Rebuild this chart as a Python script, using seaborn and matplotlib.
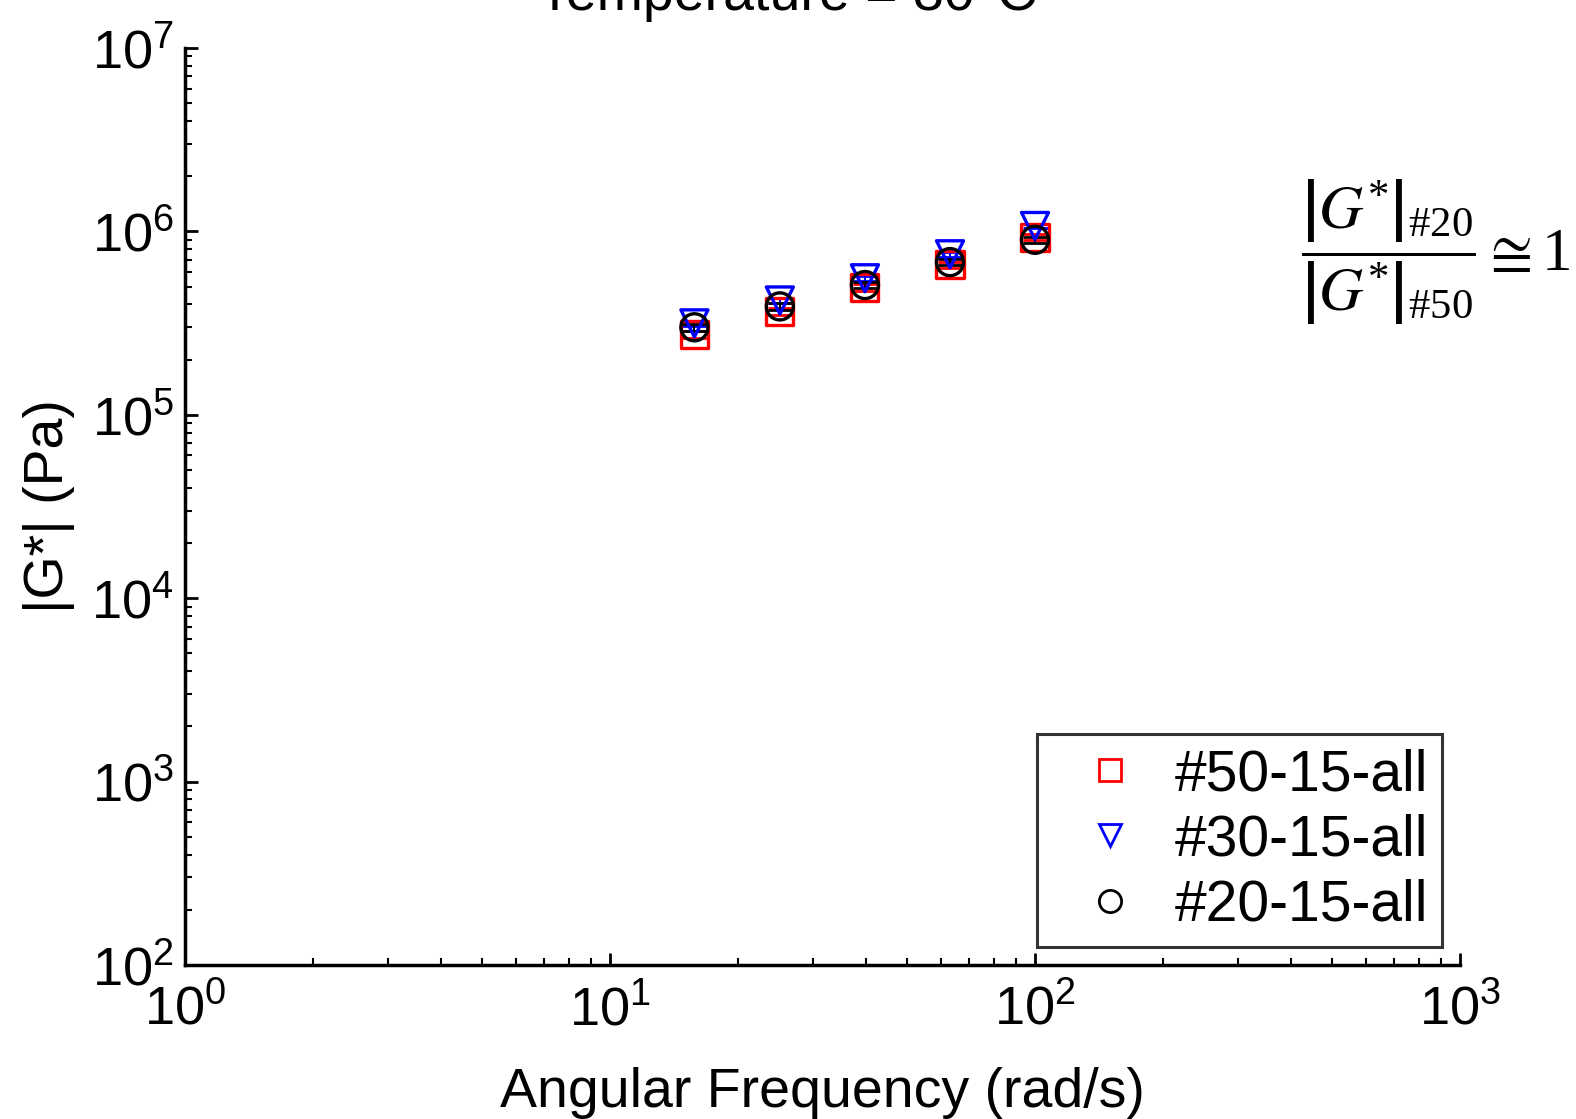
import numpy as np
import pandas as pd
import matplotlib
matplotlib.use("Agg")
import matplotlib.pyplot as plt
import seaborn as sns
from matplotlib.ticker import LogLocator, LogFormatterSciNotation, NullFormatter

# ---- data ----
freq = [15.8, 25.1, 39.8, 63.1, 100.0]
g50 = [2.75e5, 3.65e5, 4.95e5, 6.6e5, 9.3e5]
g30 = [3.15e5, 4.2e5, 5.55e5, 7.5e5, 1.07e6]
g20 = [3.0e5, 3.9e5, 5.1e5, 6.8e5, 9.0e5]
err50 = [1.2e4, 1.5e4, 2.0e4, 2.5e4, 3.5e4]
err30 = [1.0e4, 1.4e4, 1.8e4, 2.5e4, 3.0e4]
err20 = [1.2e4, 1.5e4, 2.0e4, 2.5e4, 3.5e4]
labels = ["#50-15-all", "#30-15-all", "#20-15-all"]
colors = ["red", "blue", "black"]
markers = ["s", "v", "o"]
title = "Temperature = 30°C"
xlabel = "Angular Frequency (rad/s)"
ylabel = "|G*| (Pa)"

df = pd.DataFrame({
    "freq": freq * 3,
    "G": g50 + g30 + g20,
    "sample": [labels[0]] * 5 + [labels[1]] * 5 + [labels[2]] * 5,
})

sns.set_style("ticks")
plt.rcParams["font.family"] = ["Liberation Sans", "DejaVu Sans"]
plt.rcParams["mathtext.fontset"] = "custom"
plt.rcParams["mathtext.rm"] = "Liberation Sans"
plt.rcParams["mathtext.it"] = "Liberation Sans:italic"
plt.rcParams["mathtext.default"] = "regular"
plt.rcParams["text.color"] = "black"
plt.rcParams["axes.labelcolor"] = "black"
plt.rcParams["xtick.color"] = "black"
plt.rcParams["ytick.color"] = "black"

fig = plt.figure(figsize=(15.76, 11.19), dpi=100)
ax = fig.add_axes([185 / 1576, 1 - 965 / 1119, (1460 - 185) / 1576, (965 - 48) / 1119])

for y, e, c in zip([g50, g30, g20], [err50, err30, err20], colors):
    ax.errorbar(freq, y, yerr=e, fmt="none", ecolor=c, elinewidth=1.5,
                capsize=9, capthick=2, zorder=2)

sns.scatterplot(data=df, x="freq", y="G", hue="sample", style="sample",
                hue_order=labels, style_order=labels,
                palette=dict(zip(labels, colors)),
                markers=dict(zip(labels, markers)),
                s=380, linewidth=2.4, ax=ax, zorder=3, legend=False)
# make markers hollow
for coll in ax.collections:
    if hasattr(coll, "get_offsets") and len(coll.get_offsets()) == 15:
        fc = coll.get_facecolors()
        coll.set_edgecolors(fc)
        coll.set_facecolors("none")

ax.set_xscale("log")
ax.set_yscale("log")
ax.set_xlim(1, 1000)
ax.set_ylim(1e2, 1e7)

ax.xaxis.set_major_locator(LogLocator(base=10, numticks=10))
ax.yaxis.set_major_locator(LogLocator(base=10, numticks=10))
ax.xaxis.set_minor_locator(LogLocator(base=10, subs=np.arange(2, 10), numticks=20))
ax.yaxis.set_minor_locator(LogLocator(base=10, subs=np.arange(2, 10), numticks=20))
ax.xaxis.set_major_formatter(LogFormatterSciNotation())
ax.yaxis.set_major_formatter(LogFormatterSciNotation())
ax.xaxis.set_minor_formatter(NullFormatter())
ax.yaxis.set_minor_formatter(NullFormatter())

ax.tick_params(which="major", direction="in", length=9, width=2, labelsize=39,
               color="black", labelcolor="black", pad=8)
ax.tick_params(which="minor", direction="in", length=5, width=1.5, color="black")
ax.tick_params(axis="x", which="major", pad=14)

sns.despine(ax=ax, top=True, right=True)
for sp in ["left", "bottom"]:
    ax.spines[sp].set_linewidth(2.5)
    ax.spines[sp].set_color("black")

ax.set_xlabel(xlabel, fontsize=40, labelpad=22)
ax.set_ylabel(ylabel, fontsize=40, labelpad=12)

fig.text(0.5, 1 - 10 / 1119, title, ha="center", va="baseline", fontsize=40)

# legend
handles = [plt.Line2D([], [], linestyle="none", marker=m, markersize=16,
                      markerfacecolor="none", markeredgecolor=c, markeredgewidth=2)
           for m, c in zip(markers, colors)]
leg = ax.legend(handles, labels, loc="lower right",
                bbox_to_anchor=(0.986, 0.0196), borderaxespad=0,
                fontsize=41, frameon=True, fancybox=False, handletextpad=0.1,
                handlelength=2.07, labelspacing=0.2, borderpad=0.25)
leg.get_frame().set_edgecolor("black")
leg.get_frame().set_linewidth(2.2)
for t in leg.get_texts():
    t.set_color("black")

fig.text(1435 / 1576, 1 - 252 / 1119,
         r"$\dfrac{\left|\mathit{G}^{*}_{\mathrm{\ }}\right|_{\#20}}{\left|\mathit{G}^{*}_{\mathrm{\ }}\right|_{\#50}}\cong 1$",
         family="Liberation Serif", math_fontfamily="stix", fontsize=44,
         ha="center", va="center")

fig.savefig("out.png", dpi=100)
